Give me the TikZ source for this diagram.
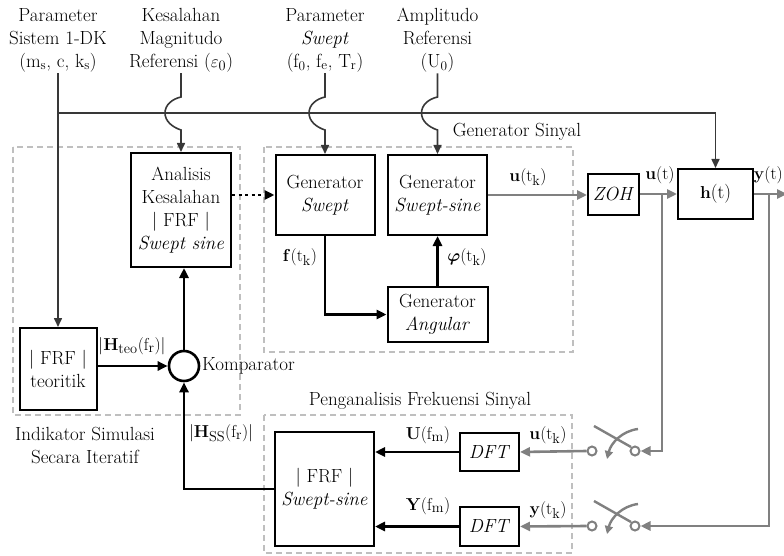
\documentclass[tikz,border=0pt]{standalone}
\usepackage{amsmath,bm}
\usetikzlibrary{arrows.meta}
\definecolor{sig}{gray}{0.5}
\definecolor{dline}{gray}{0.22}
\definecolor{dbox}{gray}{0.75}
\tikzset{
 every node/.style={font=\fontsize{19}{23}\selectfont, inner sep=1pt},
 blk/.style={draw=black, line width=2pt, fill=white, align=center, inner sep=0pt},
 grp/.style={draw=dbox, line width=1.5pt, dash pattern=on 6pt off 4pt},
 thinln/.style={draw=dline, line width=1.6pt, -{Triangle[length=9pt,width=8pt]}},
 thickln/.style={draw=black, line width=2.6pt, -{Triangle[length=10pt,width=9pt]}},
 sigln/.style={draw=sig, line width=2.6pt, -{Triangle[length=10pt,width=9pt]}},
 term/.style={circle, draw=sig, line width=2pt, fill=white, minimum size=9pt, inner sep=0pt},
 lever/.style={draw=sig, line width=2.4pt},
 leverarr/.style={draw=sig, line width=2.4pt, -{Triangle[length=8pt,width=8pt]}},
}
\begin{document}
\begin{tikzpicture}[x=1pt,y=-1pt]
\useasboundingbox (0,0) rectangle (784,556);

% dashed groups
\draw[grp] (13,147) rectangle (240,415);
\draw[grp] (264,147) rectangle (573,352);
\draw[grp] (264,415) rectangle (572,553);
\node (gslab) at (517,132) {Generator Sinyal};
\node (pflab) at (420,401) {Penganalisis Frekuensi Sinyal};
\node[align=center] (ind) at (85,446) {Indikator Simulasi\\Secara Iteratif};

% top labels
\node[align=center] (par1) at (58,40) {Parameter\\Sistem 1-DK\\(m\textsubscript{s}, c, k\textsubscript{s})};
\node[align=center] (kes) at (181,40) {Kesalahan\\Magnitudo\\Referensi ($\varepsilon_0$)};
\node[align=center] (swp) at (325,40) {Parameter\\\textit{Swept}\\(f\textsubscript{0}, f\textsubscript{e}, T\textsubscript{r})};
\node[align=center] (amp) at (437.5,40) {Amplitudo\\Referensi\\(U\textsubscript{0})};

% blocks
\node[blk, minimum width=100pt, minimum height=114pt] (ana) at (181,210) {Analisis\\Kesalahan\\| FRF |\\\textit{Swept sine}};
\node[blk, minimum width=77pt, minimum height=82pt] (teo) at (58,369) {| FRF |\\teoritik};
\node[circle, draw, line width=2.6pt, minimum size=30pt, inner sep=0pt] (cmp) at (184,366) {};
\node[anchor=west] (kom) at (201,366) {Komparator};
\node[blk, minimum width=99pt, minimum height=80pt] (gsw) at (325,195) {Generator\\\textit{Swept}};
\node[blk, minimum width=99pt, minimum height=80pt] (gss) at (437.5,195) {Generator\\\textit{Swept-sine}};
\node[blk, minimum width=100pt, minimum height=55pt] (gang) at (437.5,314.5) {Generator\\\textit{Angular}};
\node[blk, minimum width=51pt, minimum height=41pt] (zoh) at (613.5,194.5) {\textit{ZOH}};
\node[blk, minimum width=75pt, minimum height=50pt] (h) at (715.5,194) {$\mathbf{h}$(t)};
\node[blk, minimum width=99pt, minimum height=114pt] (fss) at (324.5,489) {| FRF |\\\textit{Swept-sine}};
\node[blk, minimum width=59pt, minimum height=38pt] (dft1) at (489.5,452) {\textit{DFT}};
\node[blk, minimum width=59pt, minimum height=39pt] (dft2) at (489.5,526.5) {\textit{DFT}};

% switches
\node[term] (s1l) at (592,451) {};
\node[term] (s1r) at (635,451) {};
\node[term] (s2l) at (592,526) {};
\node[term] (s2r) at (635,526) {};
\draw[lever] (594,426) -- (631,447);
\draw[leverarr] (638,429) .. controls (622,431) and (611,443) .. (607,459);
\draw[lever] (594,501) -- (631,522);
\draw[leverarr] (638,504) .. controls (622,506) and (611,518) .. (607,534);

% parameter lines
\coordinate (jn) at (58,113);
\draw[thinln] (par1.south) -- (teo.north);
\draw[thinln] (jn) -| (h.north);
\draw[thinln] (kes.south) -- (181,97) .. controls (172,99) and (165,105) .. (165,113) .. controls (165,121) and (172,127) .. (181,130) -- (ana.north);
\draw[thinln] (swp.south) -- (325,97) .. controls (316,99) and (309,105) .. (309,113) .. controls (309,121) and (316,127) .. (325,130) -- (gsw.north);
\draw[thinln] (amp.south) -- (437.5,97) .. controls (428.5,99) and (421.5,105) .. (421.5,113) .. controls (421.5,121) and (428.5,127) .. (437.5,130) -- (gss.north);

% black connectors
\draw[line width=2.6pt, dash pattern=on 3pt off 3.5pt, -{Triangle[length=10pt,width=9pt]}] (ana.east |- gsw.west) -- (gsw.west);
\draw[thickln] (gsw.south) |- (gang.west);
\draw[thickln] (gang.north) -- (gss.south);
\draw[thickln] (teo.east |- cmp.west) -- (cmp.west);
\draw[thickln] (cmp.north) -- (cmp.north |- ana.south);
\draw[thickln] (fss.west) -| (cmp.south);
\draw[thickln] (dft1.west) -- (fss.east |- dft1.west);
\draw[thickln] (dft2.west) -- (fss.east |- dft2.west);

% signal connectors
\coordinate (bu) at (662,194);
\coordinate (by) at (769,194);
\coordinate (yout) at (787,194);
\draw[sigln] (gss.east) -- (zoh.west |- gss.east);
\draw[sigln] (zoh.east |- h.west) -- (h.west);
\draw[sigln] (h.east) -- (yout);
\draw[sigln] (bu) |- (s1r.east);
\draw[sigln] (by) |- (s2r.east);
\draw[sigln] (s1l.west) -- (dft1.east);
\draw[sigln] (s2l.west) -- (dft2.east);

% labels
\node (lteo) at (132,346) {$|\mathbf{H}_{\mathrm{teo}}(\mathrm{f}_{\mathrm{r}})|$};
\node (lss) at (221,433) {$|\mathbf{H}_{\mathrm{SS}}(\mathrm{f}_{\mathrm{r}})|$};
\node (lf) at (300,257) {$\mathbf{f}(\mathrm{t}_{\mathrm{k}})$};
\node (lphi) at (467,257) {$\boldsymbol{\varphi}(\mathrm{t}_{\mathrm{k}})$};
\node (lutk) at (528,177) {$\mathbf{u}(\mathrm{t}_{\mathrm{k}})$};
\node (lut) at (660,175) {$\mathbf{u}(\mathrm{t})$};
\node[anchor=east] (lyt) at (784,175) {$\mathbf{y}(\mathrm{t})$};
\node (lU) at (428,435) {$\mathbf{U}(\mathrm{f}_{\mathrm{m}})$};
\node (lY) at (428,506) {$\mathbf{Y}(\mathrm{f}_{\mathrm{m}})$};
\node (lutk2) at (548,435) {$\mathbf{u}(\mathrm{t}_{\mathrm{k}})$};
\node (lytk2) at (548,510) {$\mathbf{y}(\mathrm{t}_{\mathrm{k}})$};
\end{tikzpicture}
\end{document}
